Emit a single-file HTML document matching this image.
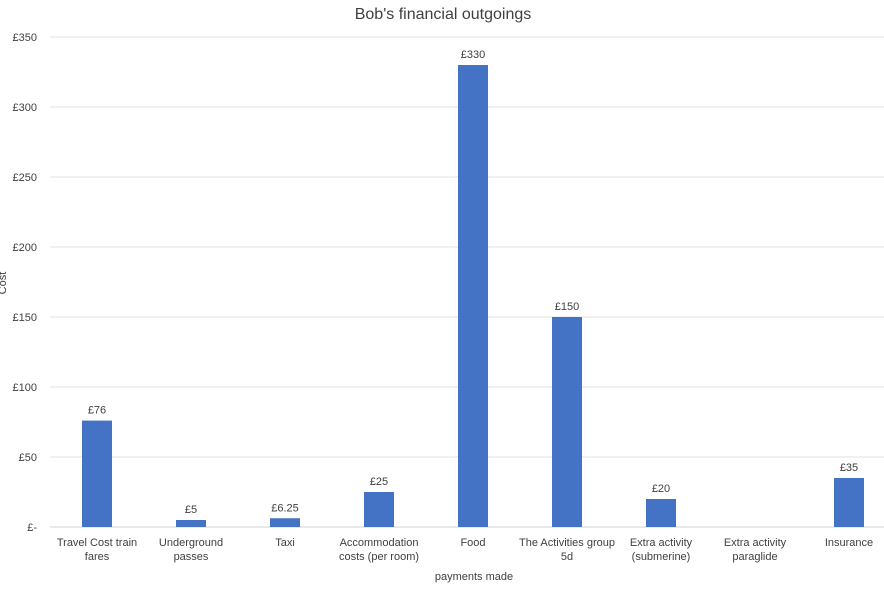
<!DOCTYPE html>
<html><head><meta charset="utf-8"><style>
body{margin:0;background:#fff;font-family:"Liberation Sans",sans-serif;}
svg text{font-family:"Liberation Sans",sans-serif;fill:#404040;}
</style></head><body>
<svg id="chart" width="884" height="591" xmlns="http://www.w3.org/2000/svg">
<text x="443" y="19" text-anchor="middle" font-size="16" style="fill:#404040">Bob's financial outgoings</text>
<g id="grid"></g>
<g id="yticks"></g>
<g id="bars"></g>
<g id="xlabels"></g>
<text transform="translate(6,283) rotate(-90)" text-anchor="middle" font-size="11">Cost</text>
<text x="474" y="580" text-anchor="middle" font-size="11">payments made</text>
</svg>
<script>
const categories=[["Travel Cost train","fares"],["Underground","passes"],["Taxi"],["Accommodation","costs (per room)"],["Food"],["The Activities group","5d"],["Extra activity","(submerine)"],["Extra activity","paraglide"],["Insurance"]];
const values=[76,5,6.25,25,330,150,20,null,35];
const valueLabels=["£76","£5","£6.25","£25","£330","£150","£20","",""+"£35"];
const ticks=[0,50,100,150,200,250,300,350];
const tickLabels=["£-","£50","£100","£150","£200","£250","£300","£350"];
const NS="http://www.w3.org/2000/svg";
const left=50,band=94,y0=527,yMax=350,plotH=490,barW=30;
const y=v=>y0-v/yMax*plotH;
const x=i=>left+band*i+band/2;
function mk(tag,attrs,parent,txt){const e=document.createElementNS(NS,tag);for(const k in attrs)e.setAttribute(k,attrs[k]);if(txt!==undefined)e.textContent=txt;parent.appendChild(e);return e;}
const grid=document.getElementById('grid'),yt=document.getElementById('yticks'),bars=document.getElementById('bars'),xl=document.getElementById('xlabels');
ticks.forEach((t,i)=>{
 const l=mk('line',{x1:left,x2:884,y1:y(t),y2:y(t),stroke:i===0?'#d0d0d0':'#e0e0e0','stroke-width':1},grid);
 
 
 const tx=mk('text',{x:37,y:y(t)+4,'text-anchor':'end','font-size':11},yt,tickLabels[i]);
 
 
});
categories.forEach((c,i)=>{
 const v=values[i];
 if(v!==null&&v!==undefined){
  const r=mk('rect',{x:x(i)-barW/2,y:y(v),width:barW,height:y0-y(v),fill:'#4472c4'},bars);
  
  
  const t=mk('text',{x:x(i),y:y(v)-7,'text-anchor':'middle','font-size':11},bars,valueLabels[i]);
  
  
 }
 c.forEach((line,j)=>{
  const t=mk('text',{x:x(i),y:546+j*14,'text-anchor':'middle','font-size':11},xl,line);
  
  
 });
});
</script>
</body></html>
